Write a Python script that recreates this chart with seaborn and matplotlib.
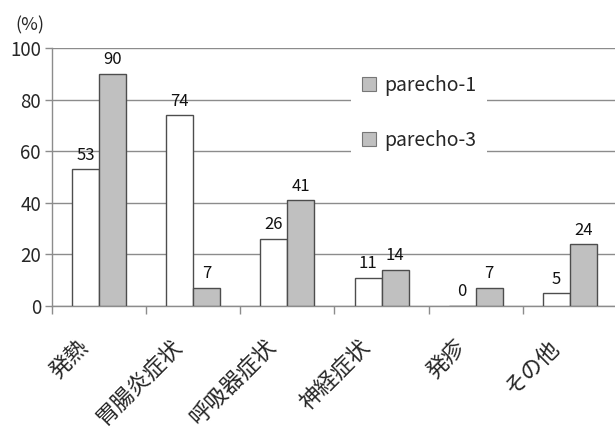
import matplotlib
matplotlib.use("Agg")
import matplotlib.pyplot as plt
from matplotlib.patches import Patch
import seaborn as sns
import pandas as pd

categories = ["発熱", "胃腸炎症状", "呼吸器症状", "神経症状", "発疹", "その他"]
series_names = ["parecho-1", "parecho-3"]
parecho1 = [53, 74, 26, 11, 0, 5]
parecho3 = [90, 7, 41, 14, 7, 24]
y_ticks = [0, 20, 40, 60, 80, 100]

df = pd.DataFrame({
    "category": categories * 2,
    "series": [series_names[0]] * len(categories) + [series_names[1]] * len(categories),
    "value": parecho1 + parecho3,
})

sns.set_theme(style="white")
plt.rcParams["font.family"] = ["Noto Sans CJK JP", "DejaVu Sans"]

W, H = 615, 430
fig = plt.figure(figsize=(W / 100, H / 100), dpi=100)
ax = fig.add_axes([52 / W, (H - 306) / H, 565 / W, 258 / H])

fill_white = "#ffffff"
fill_gray = "#c0c0c0"
edge = "#4d4d4d"
grid_col = "#8c8c8c"

sns.barplot(data=df, x="category", y="value", hue="series",
            order=categories, hue_order=series_names,
            palette=[fill_white, fill_gray], width=0.573,
            edgecolor=edge, linewidth=1.0, saturation=1,
            legend=False, ax=ax, zorder=3)

for cont in ax.containers:
    ax.bar_label(cont, fmt="%d", padding=4, fontsize=12, color="#111111")

ax.set_ylim(0, 100)
ax.set_xlim(-0.5, len(categories) - 0.5)
ax.set_yticks(y_ticks)
ax.set_yticklabels([str(v) for v in y_ticks], fontsize=13.5)
ax.yaxis.grid(True, color=grid_col, linewidth=1.0, zorder=0)
ax.xaxis.grid(False)
ax.set_axisbelow(True)

# tick marks between categories; rotated labels sit a little left of each group
label_offset = 0.24
ax.set_xticks([i - 0.5 for i in range(len(categories) + 1)])
ax.set_xticklabels([])
ax.set_xticks([i - label_offset for i in range(len(categories))], minor=True)
ax.set_xticklabels(categories, minor=True, rotation=45, ha="right", va="top",
                   rotation_mode="anchor", fontsize=16)
ax.tick_params(axis="x", which="major", length=6, width=1, color=grid_col, direction="out", bottom=True)
ax.tick_params(axis="x", which="minor", length=0, pad=21)
ax.tick_params(axis="y", length=5, width=1, color=grid_col, direction="out", left=True, pad=3)

ax.set_xlabel("")
ax.set_ylabel("")
for side in ["top", "right"]:
    ax.spines[side].set_visible(False)
for side in ["left", "bottom"]:
    ax.spines[side].set_color(grid_col)
    ax.spines[side].set_linewidth(1.0)

handles = [Patch(facecolor=fill_gray, edgecolor="#777777", linewidth=0.8, label=n) for n in series_names]
leg = ax.legend(handles=handles, loc="upper left",
                bbox_to_anchor=(351 / W, 1 - 64 / H), bbox_transform=fig.transFigure,
                frameon=True, facecolor="white", edgecolor="none", framealpha=1,
                fontsize=14, handlelength=0.75, handleheight=0.75,
                handletextpad=0.4, labelspacing=1.75, borderpad=0.55, borderaxespad=0)
leg.set_zorder(5)

fig.text(15 / W, 1 - 25 / H, "(%)", fontsize=13, va="center", ha="left")

fig.savefig("out.png", dpi=100)
